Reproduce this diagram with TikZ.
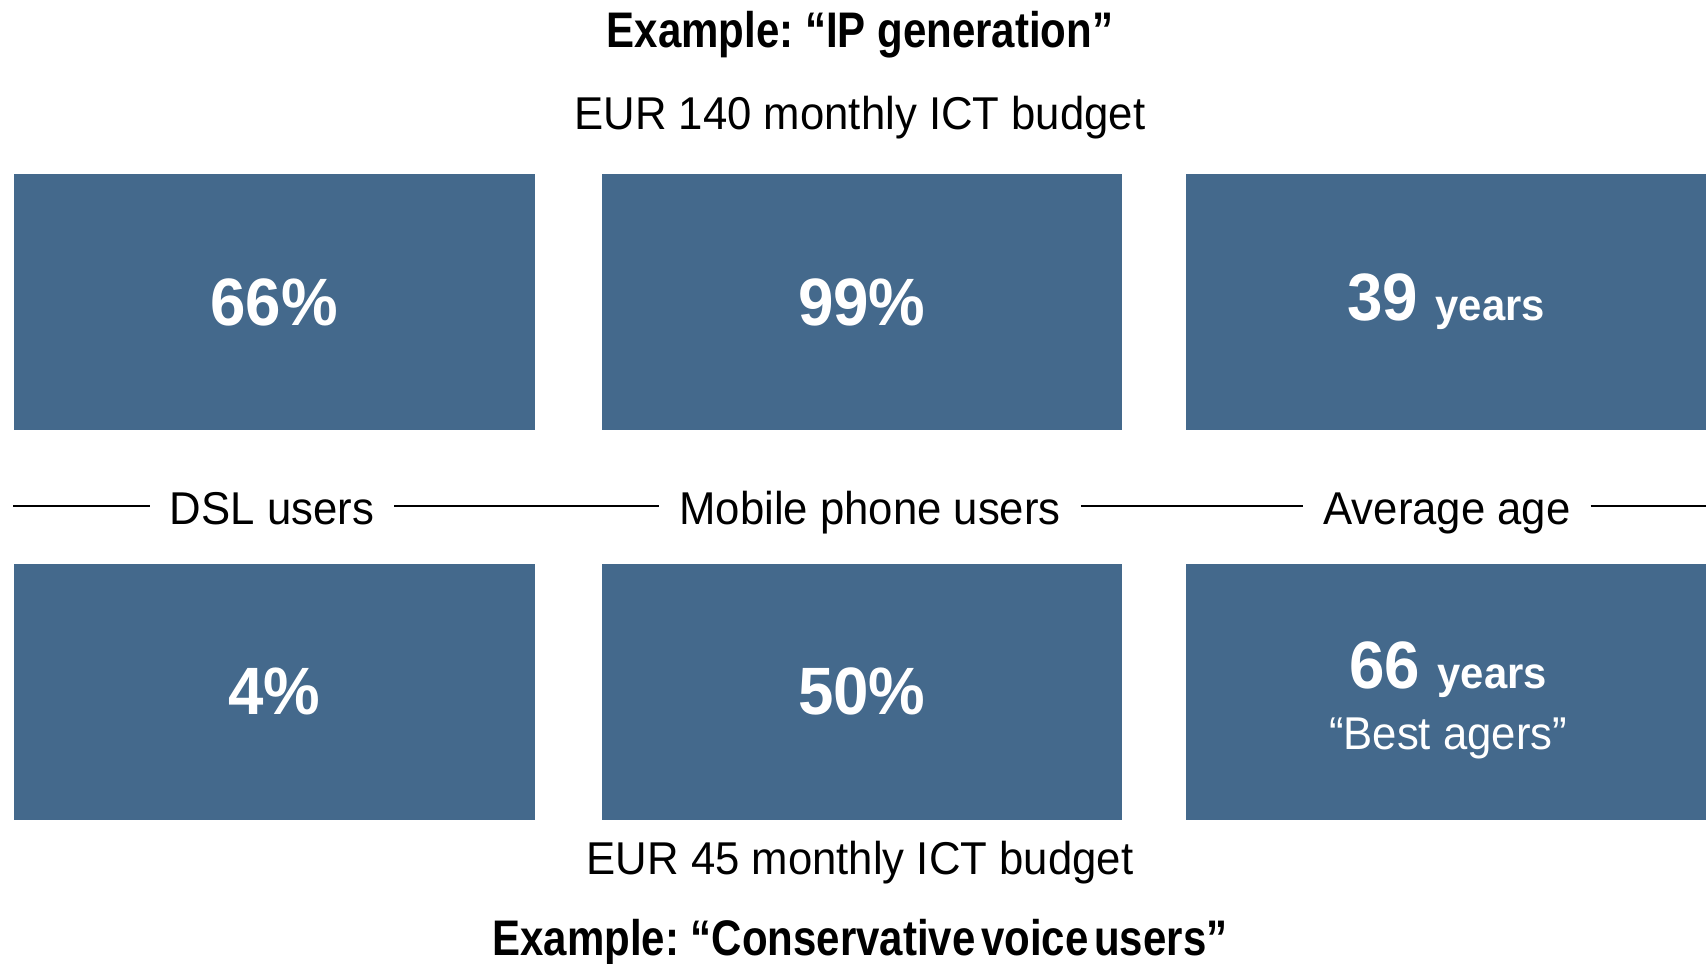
\documentclass[tikz,border=0pt]{standalone}
\usepackage{fontspec}
\setmainfont[FakeStretch=0.95]{Liberation Sans}
\newfontfamily\condbold[FakeStretch=0.84]{Liberation Sans Bold}
\newfontfamily\numbold[FakeStretch=0.95]{Liberation Sans Bold}
\definecolor{boxblue}{HTML}{44698C}
\begin{document}
\begin{tikzpicture}[x=1pt,y=-1pt,
  statbox/.style={fill=boxblue, draw=none, minimum width=520.5pt, minimum height=256pt, inner sep=0pt, text=white, align=center},
  bignum/.style={font=\numbold\fontsize{67}{70}\selectfont},
  boxtext/.style={text=white, inner sep=0pt, anchor=base},
  plain/.style={font=\fontsize{46}{50}\selectfont, inner sep=0pt},
  heading/.style={font=\condbold\fontsize{50}{54}\selectfont, inner sep=0pt},
  axislabel/.style={font=\fontsize{46}{50}\selectfont, inner xsep=20pt, inner ysep=0pt, text height=40pt, text depth=4pt},
  rule/.style={draw=black, line width=2.4pt}]
\useasboundingbox (0,0) rectangle (1706,964);
% headings
\node[heading] (t1) at (860,35) {Example:\hspace{-4pt} “IP generation”};
\node[plain] (b1) at (860,118) {EUR 140 monthly ICT budget};
\node[plain] (b2) at (860,863) {EUR 45 monthly ICT budget};
\node[heading] (t2) at (860,943) {Example:\hspace{-4pt} “Conservative\hspace{-6pt} voice\hspace{-6pt} users”};
% upper boxes
\node[statbox, bignum] (u1) at (274.25,302) {66\%};
\node[statbox, bignum] (u2) at (861.75,302) {99\%};
\node[statbox, bignum] (u3) at (1446,302) {39 {\fontsize{44}{48}\selectfont years}};
% lower boxes
\node[statbox, bignum] (l1) at (274.25,691.5) {4\%};
\node[statbox, bignum] (l2) at (861.75,691.5) {50\%};
\node[statbox] (l3) at (1446,691.5) {};
\node[boxtext, font=\numbold\fontsize{67}{70}\selectfont] (l3a) at (1448,688) {66 {\fontsize{44}{48}\selectfont years}};
\node[boxtext, font=\fontsize{46}{50}\selectfont] (l3b) at (1448,749) {“Best agers”};
% middle labels and rules
\node[axislabel] (dsl) at (272,506) {DSL users};
\node[axislabel] (mob) at (870,506) {Mobile phone users};
\node[axislabel] (age) at (1447,506) {Average age};
\coordinate (lstart) at (13,506);
\coordinate (lend) at (1706,506);
\draw[rule] (lstart) -- (dsl);
\draw[rule] (dsl) -- (mob);
\draw[rule] (mob) -- (age);
\draw[rule] (age) -- (lend);
\end{tikzpicture}
\end{document}
